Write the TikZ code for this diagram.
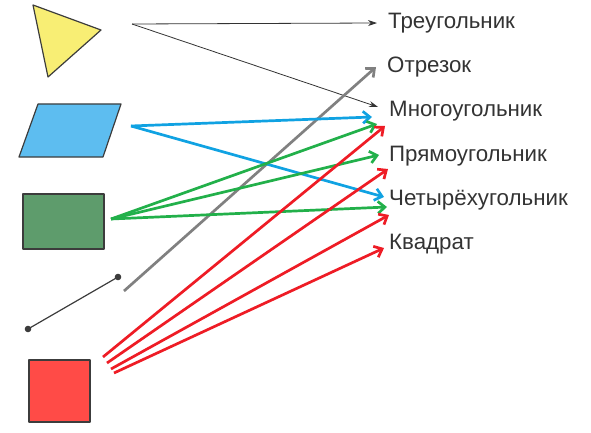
\documentclass[tikz,border=0pt]{standalone}
\usepackage{fontspec}
\setmainfont{Liberation Sans}
\usetikzlibrary{arrows.meta}
\definecolor{txt}{HTML}{333333}
\definecolor{edge}{HTML}{3C3C3C}
\definecolor{triY}{HTML}{F8EE74}
\definecolor{parB}{HTML}{5DBDF0}
\definecolor{recG}{HTML}{5E9C6C}
\definecolor{sqR}{HTML}{FF4B47}
\definecolor{arB}{HTML}{10A2E2}
\definecolor{arG}{HTML}{22B04A}
\definecolor{arR}{HTML}{EE1C25}
\definecolor{arK}{HTML}{808080}
\begin{document}
\begin{tikzpicture}[x=1pt,y=-1pt,
  lbl/.style={anchor=base west, inner sep=0pt, font=\fontsize{22.3}{24}\selectfont, text=txt},
  blk/.style={draw=txt, line width=0.8pt, -{Stealth[length=9pt,width=6pt]}},
  col/.style={line width=2.7pt, -{Straight Barb[length=7pt,width=12pt]}},
  shp/.style={draw=edge, line width=1.2pt, line join=round}]
\useasboundingbox (0,0) rectangle (591,433);
% shapes
\filldraw[shp, fill=triY] (33,5) -- (101,30) -- (48,77) -- cycle;
\filldraw[shp, fill=parB] (38,104) -- (121,104) -- (103,157) -- (19,157) -- cycle;
\filldraw[shp, fill=recG] (23,194) rectangle (104,249);
\draw[draw=edge, line width=1.2pt] (118,277) -- (28,329);
\fill[edge] (118,277) circle (3.3) (28,329) circle (3.3);
\filldraw[shp, fill=sqR] (29,360) rectangle (90,422);
% labels
\node[lbl] (t1) at (388,29) {Треугольник};
\node[lbl] (t2) at (387,73) {Отрезок};
\node[lbl] (t3) at (389,117) {Многоугольник};
\node[lbl] (t4) at (389,161) {Прямоугольник};
\node[lbl] (t5) at (389,205) {Четырёхугольник};
\node[lbl] (t6) at (389,249) {Квадрат};
% start points
\coordinate (sT) at (132,24);
\coordinate (sB) at (131,126);
\coordinate (sG) at (111,219);
\coordinate (sS) at (124,291);
\coordinate (sR1) at (103,357);
\coordinate (sR2) at (107,363);
\coordinate (sR3) at (111,369);
\coordinate (sR4) at (114,373);
% tips
\coordinate (eT1) at (377,23);
\coordinate (eT3) at (378,107);
\coordinate (eS2) at (376,67);
\coordinate (eB3) at (372,117);
\coordinate (eB5) at (384,197);
\coordinate (eG3) at (377,124);
\coordinate (eG4) at (379,155);
\coordinate (eG5) at (387,207);
\coordinate (eR3) at (385,126);
\coordinate (eR4) at (388,169);
\coordinate (eR5) at (389,215);
\coordinate (eR6) at (384,248);
% arrows
\draw[blk] (sT) -- (eT1);
\draw[blk] (sT) -- (eT3);
\draw[col, draw=arK] (sS) -- (eS2);
\draw[col, draw=arB] (sB) -- (eB3);
\draw[col, draw=arB] (sB) -- (eB5);
\draw[col, draw=arG] (sG) -- (eG3);
\draw[col, draw=arG] (sG) -- (eG4);
\draw[col, draw=arG] (sG) -- (eG5);
\draw[col, draw=arR] (sR1) -- (eR3);
\draw[col, draw=arR] (sR2) -- (eR4);
\draw[col, draw=arR] (sR3) -- (eR5);
\draw[col, draw=arR] (sR4) -- (eR6);
\end{tikzpicture}
\end{document}
